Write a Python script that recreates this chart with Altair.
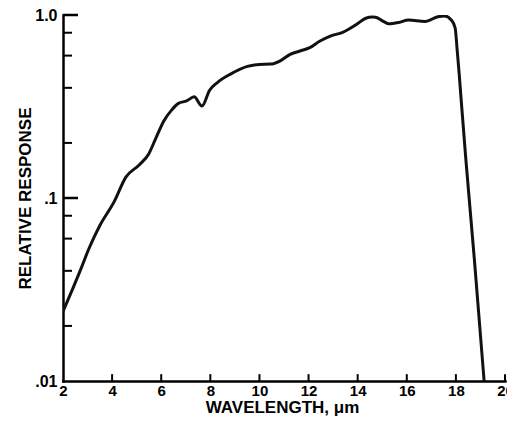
import altair as alt
import pandas as pd

# Spectral response curve
wavelength = [2.0, 2.15, 2.68, 3.08, 3.49, 4.09, 4.56, 5.09, 5.49, 5.76, 6.10, 6.43,
              6.70, 7.03, 7.34, 7.66, 7.97, 8.31, 8.84, 9.51, 10.0, 10.45, 10.85,
              11.25, 11.65, 12.05, 12.45, 12.86, 13.39, 13.93, 14.33, 14.60, 14.73,
              15.06, 15.27, 15.67, 16.07, 16.74, 17.27, 17.54, 17.81, 17.97, 18.05,
              18.14, 18.21, 18.41, 18.75, 19.15]
response = [0.024, 0.0267, 0.0395, 0.0538, 0.0703, 0.0958, 0.130, 0.151, 0.174, 0.209,
            0.263, 0.303, 0.329, 0.339, 0.357, 0.318, 0.388, 0.430, 0.477, 0.524,
            0.537, 0.539, 0.562, 0.610, 0.636, 0.663, 0.719, 0.765, 0.804, 0.884,
            0.960, 0.975, 0.972, 0.921, 0.895, 0.910, 0.940, 0.921, 0.979, 0.988,
            0.940, 0.849, 0.649, 0.467, 0.350, 0.160, 0.0466, 0.0100]

x_tick_values = [2, 4, 6, 8, 10, 12, 14, 16, 18, 20]
x_inner_ticks = [4, 6, 8, 10, 12, 14, 16, 18, 20]
y_label_values = [0.01, 0.1, 1.0]
y_major_ticks = [1.0, 0.1]
y_minor_ticks = [0.02, 0.04, 0.06, 0.08, 0.2, 0.4, 0.6, 0.8]

W, H = 442, 366
FONT = "Liberation Sans"

# one table: curve rows plus inward tick-mark rows, split by "kind"
rows = [{"kind": "curve", "wl": a, "resp": b} for a, b in zip(wavelength, response)]
rows += [{"kind": "xtick", "wl": t, "resp": 0.01} for t in x_inner_ticks]
rows += [{"kind": "ymajor", "wl": 2, "resp": t} for t in y_major_ticks]
rows += [{"kind": "yminor", "wl": 2, "resp": t} for t in y_minor_ticks]
df = pd.DataFrame(rows)

xscale = alt.Scale(domain=[2, 20], nice=False, zero=False)
yscale = alt.Scale(type="log", domain=[0.01, 1.0], nice=False)

xaxis = alt.Axis(
    values=x_tick_values, format="d", ticks=False, grid=False,
    title="WAVELENGTH, \u03bcm", titleX=W / 2 - 2, titleY=26,
    titleBaseline="middle", titleAlign="center",
)
yaxis = alt.Axis(
    values=y_label_values, ticks=False, grid=False,
    labelExpr="datum.value >= 1 ? '1.0' : (datum.value >= 0.1 ? '.1' : '.01')",
    title="RELATIVE RESPONSE", titleX=-38, titleY=H / 2, titleAngle=270,
    titleBaseline="middle", titleAlign="center",
)

base = alt.Chart(df)
X = alt.X("wl:Q", scale=xscale, axis=xaxis)
Y = alt.Y("resp:Q", scale=yscale, axis=yaxis)

xticks = base.transform_filter(alt.datum.kind == "xtick").mark_rule(
    color="black", strokeWidth=2
).encode(x=X, y=Y, y2=alt.datum(0.0109))

ymajor = base.transform_filter(alt.datum.kind == "ymajor").mark_tick(
    orient="horizontal", size=15, thickness=2.5, xOffset=7.5, color="black", opacity=1
).encode(x=X, y=Y)

yminor = base.transform_filter(alt.datum.kind == "yminor").mark_tick(
    orient="horizontal", size=9, thickness=2, xOffset=4.5, color="black", opacity=1
).encode(x=X, y=Y)

line = base.transform_filter(alt.datum.kind == "curve").mark_line(
    color="#111111", strokeWidth=3, clip=True, interpolate="monotone"
).encode(x=X, y=Y)

chart = (
    alt.layer(xticks, ymajor, yminor, line)
    .properties(
        width=W, height=H,
        autosize=alt.AutoSizeParams(type="none"),
        padding={"left": 55, "top": 7, "right": 2, "bottom": 36},
        background="white",
    )
    .configure_view(stroke=None)
    .configure_axis(
        domainColor="black", domainWidth=2.5, domainCap="square",
        labelFont=FONT, labelFontWeight="bold", labelColor="black",
        titleFont=FONT, titleFontSize=17, titleFontWeight="bold", titleColor="black",
        labelFlush=False,
    )
    .configure_axisX(labelPadding=2, labelBaseline="top", labelFontSize=15)
    .configure_axisY(labelPadding=6, labelFontSize=16)
)

chart.save("out.html", embed_options={"renderer": "svg", "actions": False})
